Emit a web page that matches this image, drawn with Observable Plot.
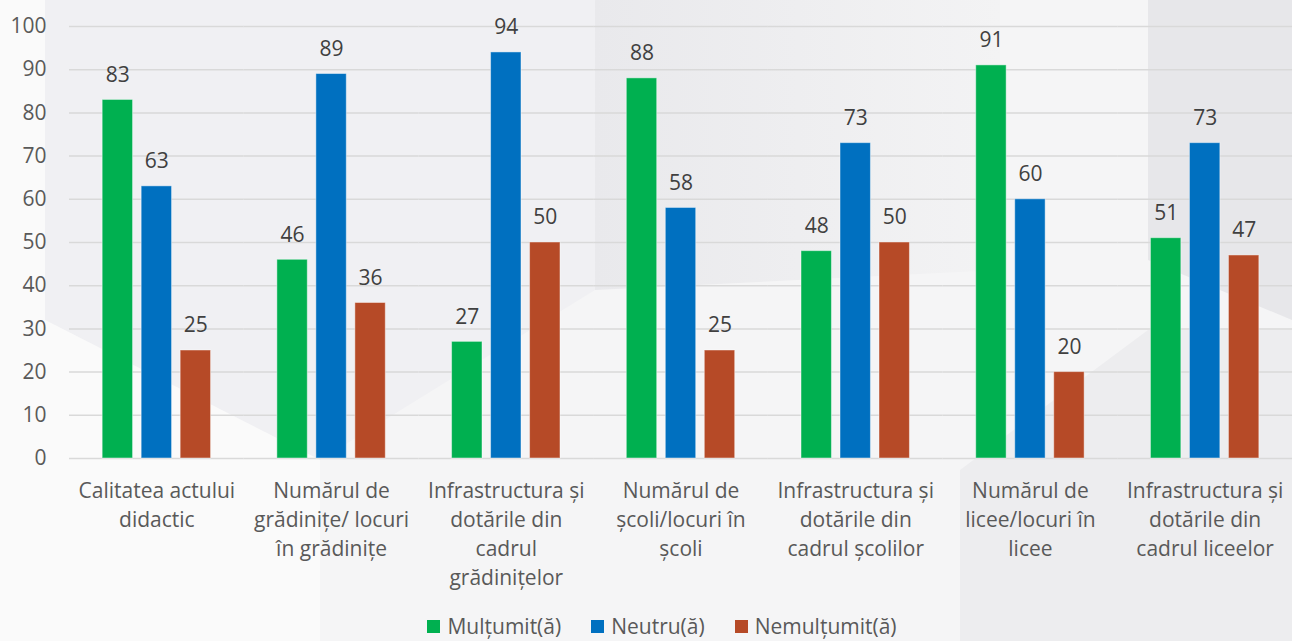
<!DOCTYPE html>
<html>
<head>
<meta charset="utf-8">
<script src="https://cdn.jsdelivr.net/npm/d3@7"></script>
<script src="https://cdn.jsdelivr.net/npm/@observablehq/plot@0.6"></script>
<style>
  html, body { margin: 0; padding: 0; }
  body { width: 1292px; height: 641px; overflow: hidden; position: relative; background: #f4f4f5; font-family: "Open Sans", sans-serif; }
  #bg { position: absolute; left: 0; top: 0; width: 1292px; height: 641px; }
  #chart { position: absolute; left: 0; top: 0; }
  #chart svg { background: transparent !important; display: block; }
  #legend { position: absolute; left: 0; top: 612px; width: 1292px; box-sizing: border-box; display: flex; justify-content: center; align-items: center; height: 28px; padding-left: 32px; font-size: 21px; line-height: 26px; color: #595959; }
  #legend .item { display: flex; align-items: center; margin: 0 15px; }
  #legend .sw { width: 13px; height: 13px; margin-right: 7px; }
</style>
</head>
<body>
<svg id="bg" viewBox="0 0 1292 641">
  <defs>
    <linearGradient id="gMid" x1="0" x2="1" y1="0" y2="0">
      <stop offset="0" stop-color="#e9e9ec"/>
      <stop offset="1" stop-color="#f3f3f4"/>
    </linearGradient>
  </defs>
  <rect x="0" y="0" width="1292" height="641" fill="#f5f5f6"/>
  <polygon points="45,0 595,0 595,290 320,460 45,320" fill="#f0f0f3"/>
  <polygon points="595,0 1000,0 1000,270 595,290" fill="url(#gMid)"/>
  <polygon points="1148,0 1292,0 1292,320 1148,260" fill="#e7e7ea"/>
  <polygon points="960,641 960,470 1148,330 1292,330 1292,641" fill="#ededef"/>
  <polygon points="0,0 45,0 45,320 320,460 320,641 0,641" fill="#fafafa"/>
</svg>
<div id="chart"></div>
<div id="legend"></div>
<script>
// Satisfaction survey: share of respondents per topic (%)
const categories = [
  "Calitatea actului didactic",
  "Numărul de grădinițe/ locuri în grădinițe",
  "Infrastructura și dotările din cadrul grădinițelor",
  "Numărul de școli/locuri în școli",
  "Infrastructura și dotările din cadrul școlilor",
  "Numărul de licee/locuri în licee",
  "Infrastructura și dotările din cadrul liceelor"
];
const categoryLabels = [
  "Calitatea actului\ndidactic",
  "Numărul de\ngrădinițe/ locuri\nîn grădinițe",
  "Infrastructura și\ndotările din\ncadrul\ngrădinițelor",
  "Numărul de\nșcoli/locuri în\nșcoli",
  "Infrastructura și\ndotările din\ncadrul școlilor",
  "Numărul de\nlicee/locuri în\nlicee",
  "Infrastructura și\ndotările din\ncadrul liceelor"
];
const seriesNames = ["Mulțumit(ă)", "Neutru(ă)", "Nemulțumit(ă)"];
const seriesColors = ["#00b050", "#0070c0", "#b64a27"];
const multumit   = [83, 46, 27, 88, 48, 91, 51];
const neutru     = [63, 89, 94, 58, 73, 60, 73];
const nemultumit = [25, 36, 50, 25, 50, 20, 47];
const yTicks = [0, 10, 20, 30, 40, 50, 60, 70, 80, 90, 100];

const seriesValues = [multumit, neutru, nemultumit];
const rows = [];
categories.forEach((c, i) => {
  seriesNames.forEach((s, j) => rows.push({category: c, series: s, value: seriesValues[j][i]}));
});

const font = "'Open Sans', sans-serif";

const chart = Plot.plot({
  width: 1292,
  height: 605,
  marginLeft: 69,
  marginRight: 0,
  marginTop: 26,
  marginBottom: 147,
  style: {background: "transparent", fontFamily: font, fontSize: "21px", color: "#595959"},
  fx: {domain: categories, padding: 0, round: false, axis: null},
  x: {domain: seriesNames, paddingInner: 0.22, paddingOuter: 0.85, round: false, axis: null},
  y: {domain: [0, 100], axis: null},
  color: {domain: seriesNames, range: seriesColors},
  marks: [
    Plot.ruleY(yTicks, {stroke: "#d9d9d9", strokeWidth: 1.5}),
    Plot.axisY({ticks: yTicks, tickSize: 0, tickPadding: 23, fontSize: 21, fill: "#595959", label: null}),
    Plot.barY(rows, {fx: "category", x: "series", y: "value", fill: "series", stroke: "#ffffff", strokeOpacity: 0.45, strokeWidth: 1}),
    Plot.text(rows, {fx: "category", x: "series", y: "value", text: d => String(d.value), dy: -25, fontSize: 21, fill: "#404040"}),
    Plot.text(categories, {
      fx: d => d,
      text: d => categoryLabels[categories.indexOf(d)],
      frameAnchor: "bottom",
      lineAnchor: "top",
      dy: 19,
      lineHeight: 1.38,
      fontSize: 21,
      fill: "#595959"
    })
  ]
});
document.getElementById("chart").append(chart);

const legend = document.getElementById("legend");
seriesNames.forEach((s, j) => {
  const item = document.createElement("div");
  item.className = "item";
  const sw = document.createElement("span");
  sw.className = "sw";
  sw.style.background = seriesColors[j];
  const label = document.createElement("span");
  label.textContent = s;
  item.append(sw, label);
  legend.append(item);
});
</script>
</body>
</html>
